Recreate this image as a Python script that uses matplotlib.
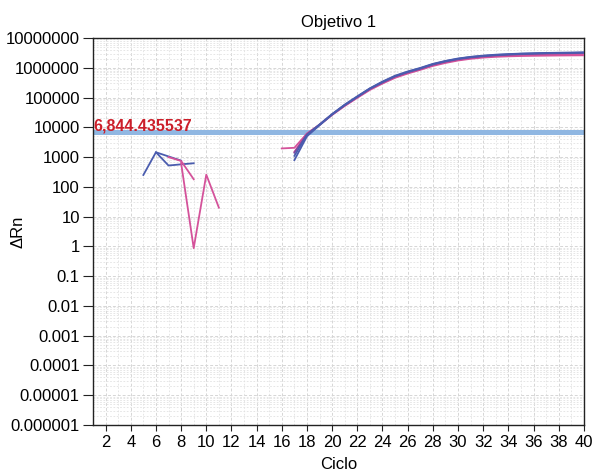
#!/usr/bin/env python3
import numpy as np
import matplotlib
matplotlib.use("Agg")
import matplotlib.pyplot as plt
from matplotlib.ticker import FixedLocator, LogLocator, NullFormatter

plt.rcParams["font.family"] = ["Liberation Sans", "DejaVu Sans"]

THRESHOLD = 6844.435537

# early noise fragments (cycle, delta Rn)
noise_blue_a_x = [5, 6, 7, 8, 9]
noise_blue_a_y = [250, 1450, 520, 570, 620]
noise_blue_b_x = [6, 7, 8]
noise_blue_b_y = [1450, 1050, 760]
noise_pink_a_x = [7, 8, 9]
noise_pink_a_y = [1000, 740, 180]
noise_pink_b_x = [8, 9, 10, 11]
noise_pink_b_y = [630, 0.87, 257, 20]

# amplification curves
cycles = list(range(17, 41))
blue_1 = [790, 5000, 11700, 27000, 56000, 107000, 200000, 330000, 525000, 725000,
          955000, 1320000, 1660000, 2000000, 2290000, 2510000, 2690000, 2820000,
          2950000, 3020000, 3090000, 3160000, 3160000, 3240000]
blue_2 = [1100, 5600, 12500, 28000, 58000, 110000, 205000, 345000, 540000, 750000,
          990000, 1350000, 1700000, 2050000, 2330000, 2560000, 2750000, 2880000,
          3000000, 3080000, 3150000, 3200000, 3250000, 3300000]
purple_1 = [1400, 5800, 12200, 27000, 55000, 104000, 195000, 320000, 505000, 700000,
            920000, 1270000, 1600000, 1930000, 2200000, 2420000, 2600000, 2730000,
            2850000, 2930000, 3000000, 3050000, 3100000, 3150000]
pink_cycles = list(range(16, 41))
pink_1 = [1950, 2050, 6200, 12000, 26000, 52000, 98000, 180000, 295000, 460000, 640000,
          850000, 1150000, 1450000, 1750000, 2000000, 2200000, 2330000, 2420000,
          2480000, 2520000, 2550000, 2580000, 2600000, 2620000]
pink_2 = [1500, 6000, 12300, 27000, 54000, 102000, 190000, 310000, 490000, 680000,
          900000, 1230000, 1550000, 1870000, 2130000, 2340000, 2500000, 2620000,
          2700000, 2760000, 2800000, 2840000, 2870000, 2900000]

BLUE = "#4a5cae"
PURPLE = "#7c4aa0"
PINK = "#d4529a"

fig = plt.figure(figsize=(5.97, 4.72), dpi=100)
ax = fig.add_axes([0.1558, 0.0996, 0.8222, 0.8199])

ax.set_yscale("log")
ax.set_xlim(1, 40)
ax.set_ylim(1e-6, 1e7)

ax.axhline(THRESHOLD, color="#90b7e2", lw=3.6, zorder=2)

lw = 1.3
ax.plot(noise_blue_a_x, noise_blue_a_y, color=BLUE, lw=lw, zorder=3)
ax.plot(noise_blue_b_x, noise_blue_b_y, color=BLUE, lw=lw, zorder=3)
ax.plot(noise_pink_a_x, noise_pink_a_y, color=PINK, lw=lw, zorder=3)
ax.plot(noise_pink_b_x, noise_pink_b_y, color=PINK, lw=lw, zorder=3)

ax.plot(pink_cycles, pink_1, color=PINK, lw=lw, zorder=3)
ax.plot(cycles, pink_2, color=PINK, lw=lw, zorder=3)
ax.plot(cycles, purple_1, color=PURPLE, lw=lw, zorder=3)
ax.plot(cycles, blue_2, color=BLUE, lw=lw, zorder=3)
ax.plot(cycles, blue_1, color=BLUE, lw=lw, zorder=3)

ax.text(1.02, THRESHOLD * 1.14, "6,844.435537", color="#cc1f2a", fontsize=11.5,
        fontweight="bold", va="baseline", ha="left", zorder=4)

yticks = [10.0 ** k for k in range(-6, 8)]
ylabels = ["0.000001", "0.00001", "0.0001", "0.001", "0.01", "0.1", "1", "10",
           "100", "1000", "10000", "100000", "1000000", "10000000"]
ax.yaxis.set_major_locator(FixedLocator(yticks))
ax.set_yticklabels(ylabels)
ax.yaxis.set_minor_locator(LogLocator(base=10, subs=np.arange(2, 10), numticks=100))
ax.yaxis.set_minor_formatter(NullFormatter())

xticks = list(range(2, 41, 2))
ax.set_xticks(xticks)
ax.set_xticks(list(range(1, 41)), minor=True)

ax.tick_params(axis="y", which="major", labelsize=12, length=7, pad=2.5,
               direction="out", color="#222222")
ax.tick_params(axis="x", which="major", labelsize=12, length=4, pad=3,
               direction="out", color="#222222")
ax.tick_params(axis="both", which="minor", length=0)

ax.grid(True, which="major", color="#d6d6d6", lw=0.7, ls=(0, (3, 2)), zorder=0)
ax.grid(True, which="minor", color="#e2e2e2", lw=0.6, ls=(0, (2, 2)), zorder=0)

for s in ax.spines.values():
    s.set_color("#222222")
    s.set_linewidth(1.0)

ax.set_title("Objetivo 1", fontsize=12, pad=8)
ax.set_xlabel("Ciclo", fontsize=12, labelpad=5)
ax.set_ylabel("ΔRn", fontsize=12)
ax.yaxis.set_label_coords(-0.138, 0.5)

fig.savefig("out.png", dpi=100)
